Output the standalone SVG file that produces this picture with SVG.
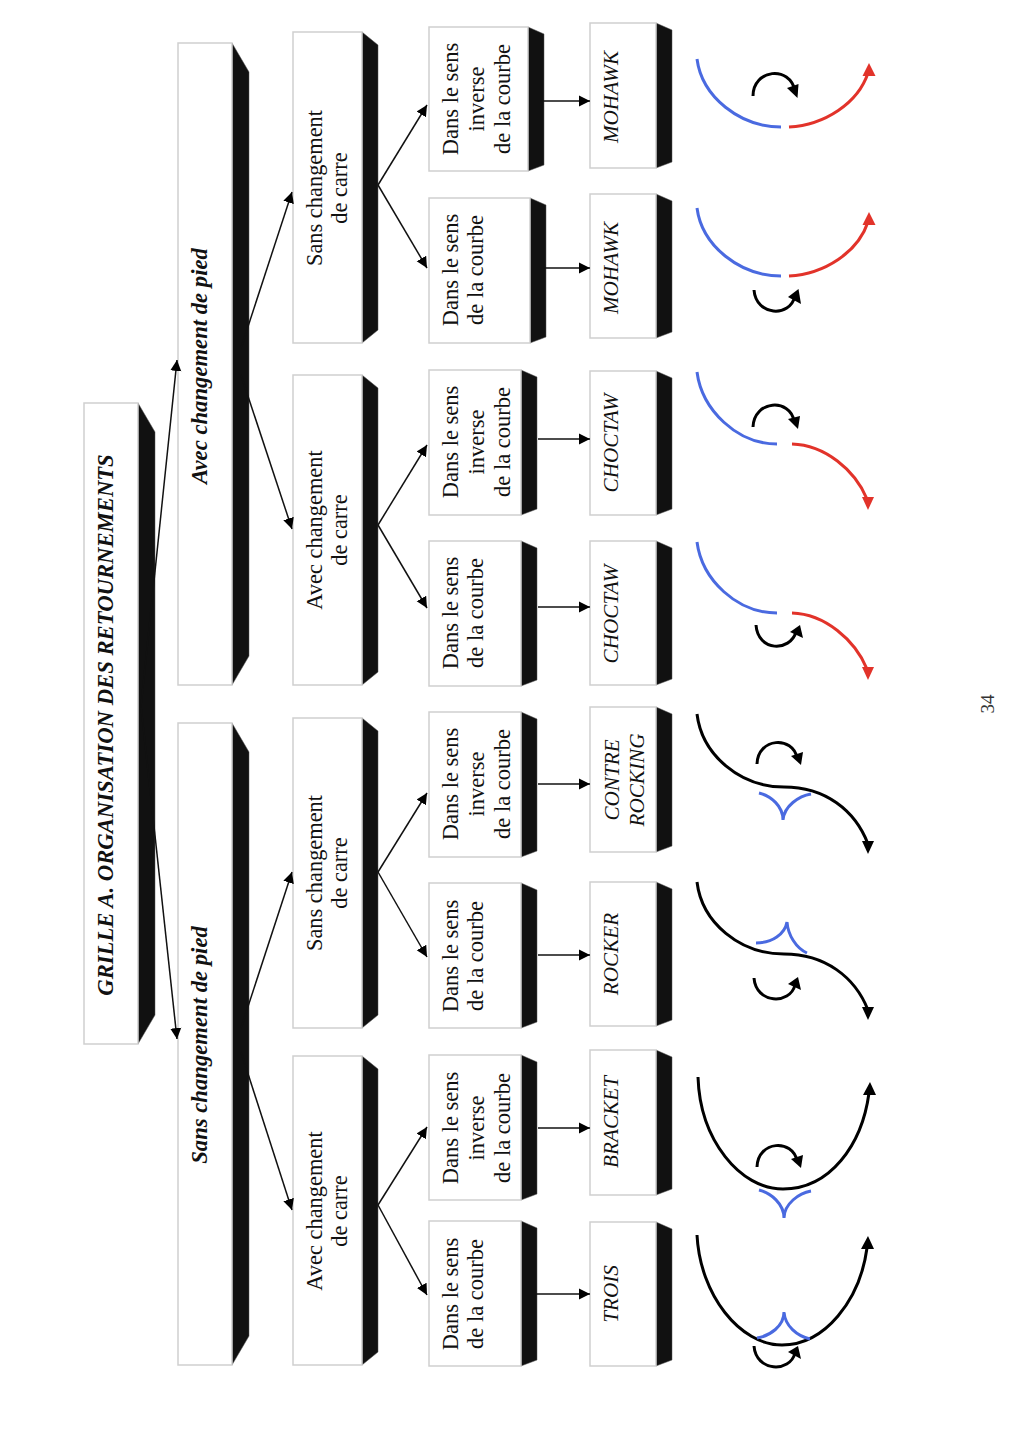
<svg xmlns="http://www.w3.org/2000/svg" width="1014" height="1429" viewBox="0 0 1014 1429">
<style>
.b{fill:#fff;stroke:#cfcfcf;stroke-width:1.5}
.s{fill:#111;stroke:#555;stroke-width:.5}
.t{font-family:"Liberation Serif","Times New Roman",serif;fill:#111;text-anchor:middle}
.t1{font-size:22.7px;font-weight:bold;font-style:italic}
.t2{font-size:22.7px;font-weight:bold;font-style:italic}
.t3{font-size:22.4px}
.t4{font-size:22.5px}
.t5{font-size:21.2px;font-style:italic}
.p{font-size:19px;fill:#333}
.l{stroke:#111;stroke-width:1.5;fill:none}
.c{fill:none;stroke-width:3;stroke-linecap:butt}
.k{stroke:#000}.u{stroke:#4a6ae0}.r{stroke:#e2332a}
.h{fill:#000}.hr{fill:#e2332a}
</style>
<defs>
<marker id="a" markerUnits="userSpaceOnUse" markerWidth="12" markerHeight="12" refX="11" refY="6" orient="auto"><path d="M0 .5L11 6L0 11.5Z" fill="#000"/></marker>
</defs>
<rect width="1014" height="1429" fill="#fff"/>

<g id="title"><path class="s" d="M138 403L155 432V1015L138 1044Z"/><rect class="b" x="84" y="403" width="54" height="641"/><text class="t t1" transform="translate(113 725) rotate(-90)">GRILLE A. ORGANISATION DES RETOURNEMENTS</text></g>

<g id="avec-pied"><path class="s" d="M232 43L249 72V656L232 685Z"/><rect class="b" x="178" y="43" width="54" height="642"/><text class="t t2" transform="translate(207 366) rotate(-90)">Avec changement de pied</text></g>
<g id="sans-pied"><path class="s" d="M232 723L249 752V1336L232 1365Z"/><rect class="b" x="178" y="723" width="54" height="642"/><text class="t t2" transform="translate(207 1045) rotate(-90)">Sans changement de pied</text></g>

<g id="carre-1"><path class="s" d="M362 32L378 45V330L362 343Z"/><rect class="b" x="293" y="32" width="69" height="311"/><text class="t t3" transform="translate(322 188) rotate(-90)">Sans changement</text><text class="t t3" transform="translate(347 188) rotate(-90)">de carre</text></g>
<g id="carre-2"><path class="s" d="M362 375L378 388V672L362 685Z"/><rect class="b" x="293" y="375" width="69" height="310"/><text class="t t3" transform="translate(322 530) rotate(-90)">Avec changement</text><text class="t t3" transform="translate(347 530) rotate(-90)">de carre</text></g>
<g id="carre-3"><path class="s" d="M362 718L378 731V1015L362 1028Z"/><rect class="b" x="293" y="718" width="69" height="310"/><text class="t t3" transform="translate(322 873) rotate(-90)">Sans changement</text><text class="t t3" transform="translate(347 873) rotate(-90)">de carre</text></g>
<g id="carre-4"><path class="s" d="M362 1056L378 1069V1352L362 1365Z"/><rect class="b" x="293" y="1056" width="69" height="309"/><text class="t t3" transform="translate(322 1211) rotate(-90)">Avec changement</text><text class="t t3" transform="translate(347 1211) rotate(-90)">de carre</text></g>

<g id="sens-1"><path class="s" d="M528 27L544 34V165L528 171Z"/><rect class="b" x="429" y="27" width="99" height="144"/><text class="t t4" transform="translate(458 99) rotate(-90)">Dans le sens</text><text class="t t4" transform="translate(484 99) rotate(-90)">inverse</text><text class="t t4" transform="translate(510 99) rotate(-90)">de la courbe</text></g>
<g id="sens-2"><path class="s" d="M530 198L546 205V337L530 343Z"/><rect class="b" x="429" y="198" width="101" height="145"/><text class="t t4" transform="translate(458 270) rotate(-90)">Dans le sens</text><text class="t t4" transform="translate(483 270) rotate(-90)">de la courbe</text></g>
<g id="sens-3"><path class="s" d="M521 370L537 377V509L521 515Z"/><rect class="b" x="429" y="370" width="92" height="145"/><text class="t t4" transform="translate(458 442) rotate(-90)">Dans le sens</text><text class="t t4" transform="translate(484 442) rotate(-90)">inverse</text><text class="t t4" transform="translate(510 442) rotate(-90)">de la courbe</text></g>
<g id="sens-4"><path class="s" d="M521 541L537 548V680L521 686Z"/><rect class="b" x="429" y="541" width="92" height="145"/><text class="t t4" transform="translate(458 613) rotate(-90)">Dans le sens</text><text class="t t4" transform="translate(483 613) rotate(-90)">de la courbe</text></g>
<g id="sens-5"><path class="s" d="M521 712L537 719V851L521 857Z"/><rect class="b" x="429" y="712" width="92" height="145"/><text class="t t4" transform="translate(458 784) rotate(-90)">Dans le sens</text><text class="t t4" transform="translate(484 784) rotate(-90)">inverse</text><text class="t t4" transform="translate(510 784) rotate(-90)">de la courbe</text></g>
<g id="sens-6"><path class="s" d="M521 883L537 890V1022L521 1028Z"/><rect class="b" x="429" y="883" width="92" height="145"/><text class="t t4" transform="translate(458 956) rotate(-90)">Dans le sens</text><text class="t t4" transform="translate(483 956) rotate(-90)">de la courbe</text></g>
<g id="sens-7"><path class="s" d="M521 1055L537 1062V1194L521 1200Z"/><rect class="b" x="429" y="1055" width="92" height="145"/><text class="t t4" transform="translate(458 1128) rotate(-90)">Dans le sens</text><text class="t t4" transform="translate(484 1128) rotate(-90)">inverse</text><text class="t t4" transform="translate(510 1128) rotate(-90)">de la courbe</text></g>
<g id="sens-8"><path class="s" d="M521 1221L537 1228V1360L521 1366Z"/><rect class="b" x="429" y="1221" width="92" height="145"/><text class="t t4" transform="translate(458 1294) rotate(-90)">Dans le sens</text><text class="t t4" transform="translate(483 1294) rotate(-90)">de la courbe</text></g>

<g id="mohawk-1"><path class="s" d="M656 23L672 30V162L656 168Z"/><rect class="b" x="590" y="23" width="66" height="145"/><text class="t t5" transform="translate(618 97) rotate(-90)">MOHAWK</text></g>
<g id="mohawk-2"><path class="s" d="M656 194L672 201V332L656 338Z"/><rect class="b" x="590" y="194" width="66" height="144"/><text class="t t5" transform="translate(618 268) rotate(-90)">MOHAWK</text></g>
<g id="choctaw-1"><path class="s" d="M656 371L672 378V509L656 515Z"/><rect class="b" x="590" y="371" width="66" height="144"/><text class="t t5" transform="translate(618 443) rotate(-90)">CHOCTAW</text></g>
<g id="choctaw-2"><path class="s" d="M656 541L672 548V679L656 685Z"/><rect class="b" x="590" y="541" width="66" height="144"/><text class="t t5" transform="translate(618 614) rotate(-90)">CHOCTAW</text></g>
<g id="contre-rocking"><path class="s" d="M656 707L672 714V846L656 852Z"/><rect class="b" x="590" y="707" width="66" height="145"/><text class="t t5" transform="translate(619 780) rotate(-90)">CONTRE</text><text class="t t5" transform="translate(644 780) rotate(-90)">ROCKING</text></g>
<g id="rocker"><path class="s" d="M656 882L672 889V1020L656 1026Z"/><rect class="b" x="590" y="882" width="66" height="144"/><text class="t t5" transform="translate(618 954) rotate(-90)">ROCKER</text></g>
<g id="bracket"><path class="s" d="M656 1050L672 1057V1189L656 1195Z"/><rect class="b" x="590" y="1050" width="66" height="145"/><text class="t t5" transform="translate(618 1122) rotate(-90)">BRACKET</text></g>
<g id="trois"><path class="s" d="M656 1222L672 1229V1360L656 1366Z"/><rect class="b" x="590" y="1222" width="66" height="144"/><text class="t t5" transform="translate(618 1294) rotate(-90)">TROIS</text></g>

<g id="connectors">
<path class="l" marker-end="url(#a)" d="M141 706L177 360"/>
<path class="l" marker-end="url(#a)" d="M141 706L177 1039"/>
<path class="l" marker-end="url(#a)" d="M241 348L292 192"/>
<path class="l" marker-end="url(#a)" d="M241 375L292 529"/>
<path class="l" marker-end="url(#a)" d="M241 1028L292 872"/>
<path class="l" marker-end="url(#a)" d="M241 1052L292 1210"/>
<path class="l" marker-end="url(#a)" d="M378 185L427 105"/>
<path class="l" marker-end="url(#a)" d="M378 185L427 268"/>
<path class="l" marker-end="url(#a)" d="M378 525L427 445"/>
<path class="l" marker-end="url(#a)" d="M378 525L427 608"/>
<path class="l" marker-end="url(#a)" d="M378 872L427 793"/>
<path class="l" marker-end="url(#a)" d="M378 872L427 957"/>
<path class="l" marker-end="url(#a)" d="M378 1205L427 1127"/>
<path class="l" marker-end="url(#a)" d="M378 1205L427 1295"/>
<path class="l" marker-end="url(#a)" d="M540 101H590"/>
<path class="l" marker-end="url(#a)" d="M540 268H590"/>
<path class="l" marker-end="url(#a)" d="M538 439H590"/>
<path class="l" marker-end="url(#a)" d="M538 607H590"/>
<path class="l" marker-end="url(#a)" d="M538 784H590"/>
<path class="l" marker-end="url(#a)" d="M538 955H590"/>
<path class="l" marker-end="url(#a)" d="M538 1128H590"/>
<path class="l" marker-end="url(#a)" d="M536 1294H590"/>
</g>

<g id="curve-mohawk-1">
<path class="c u" d="M697 59C702 97 740 127 781 127"/><path class="c r" d="M789 127C825 125 858 103 868 73"/><path class="hr" d="M869 63L875.5 76L862.5 76Z"/>
<path class="c k" d="M753 96C753 69 790 65 795 91"/><path class="h" d="M798.5 84L797.5 98L787 88Z"/>
</g>
<g id="curve-mohawk-2">
<path class="c u" d="M697 208C702 246 740 276 781 276"/><path class="c r" d="M789 276C825 274 858 252 868 222"/><path class="hr" d="M869 212L875.5 225L862.5 225Z"/>
<path class="c k" d="M754 290C756 316 790 318 795 296"/><path class="h" d="M798.5 289L801 304L788 297Z"/>
</g>
<g id="curve-choctaw-1">
<path class="c u" d="M697 372C702 410 737 444 777 444"/><path class="c r" d="M792 444C825 445 855 470 867 499"/><path class="hr" d="M868 510L862 497L874 497Z"/>
<path class="c k" d="M753 427C754 400 790 398 794 421"/><path class="h" d="M798 429L800 416L788 419Z"/>
</g>
<g id="curve-choctaw-2">
<path class="c u" d="M697 542C702 580 737 613 777 613"/><path class="c r" d="M792 613C825 614 855 640 867 669"/><path class="hr" d="M868 680L862 667L874 667Z"/>
<path class="c k" d="M756 625C758 652 790 652 796 632"/><path class="h" d="M800 625L803 638L790 632Z"/>
</g>
<g id="curve-contre">
<path class="c k" d="M697 714C702 755 740 787 784 787C825 787 855 810 868 844"/><path class="h" d="M868 854L862 841L874 841Z"/>
<path class="c u" d="M759 793C771 796 783 806 783 820C784 806 799 796 811 794"/>
<path class="c k" d="M757 764C758 737 793 736 797 758"/><path class="h" d="M801 765L803 752L791 756Z"/>
</g>
<g id="curve-rocker">
<path class="c k" d="M697 882C702 923 740 954 784 954C825 954 855 977 868 1010"/><path class="h" d="M868 1020L862 1007L874 1007Z"/>
<path class="c u" d="M756 943C772 943 785 934 787 922C788 935 796 948 807 953"/>
<path class="c k" d="M754 978C756 1004 790 1005 795 985"/><path class="h" d="M798 977L801 990L788 984Z"/>
</g>
<g id="curve-bracket">
<path class="c k" d="M698 1077C700 1140 740 1189 783 1189C830 1189 862 1145 869 1093"/><path class="h" d="M870 1082L876 1095L863 1095Z"/>
<path class="c u" d="M759 1190C771 1193 784 1204 784 1218C784 1204 799 1193 811 1191"/>
<path class="c k" d="M757 1167C758 1140 793 1139 797 1161"/><path class="h" d="M801 1168L803 1155L791 1159Z"/>
</g>
<g id="curve-trois">
<path class="c k" d="M697 1235C700 1295 740 1345 782 1345C825 1345 860 1300 867 1248"/><path class="h" d="M868 1236L874 1249L861 1249Z"/>
<path class="c u" d="M757 1338C770 1336 784 1326 784 1312C785 1326 797 1336 810 1339"/>
<path class="c k" d="M754 1346C756 1372 790 1373 795 1353"/><path class="h" d="M798 1346L801 1359L788 1352Z"/>
</g>

<g id="page"><text class="t p" transform="translate(994 704) rotate(-90)">34</text></g>
</svg>
